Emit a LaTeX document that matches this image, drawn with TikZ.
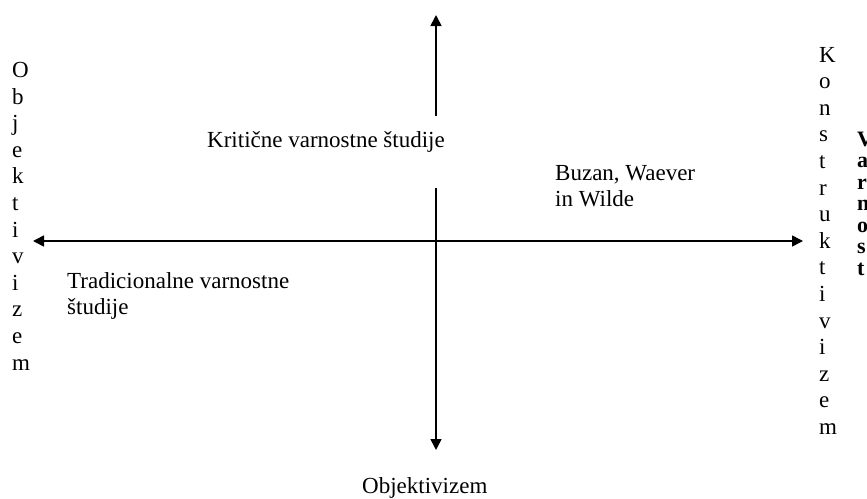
\documentclass[tikz,border=0pt]{standalone}
\usepackage{fontspec}
\setmainfont{Liberation Serif}
\usetikzlibrary{arrows.meta}
\begin{document}
\begin{tikzpicture}[x=1pt,y=-1pt,
  lbl/.style={font=\fontsize{23}{26.6}\selectfont, inner sep=0pt, anchor=base west},
  vlbl/.style={font=\fontsize{22}{21.5}\selectfont\bfseries, inner sep=0pt, anchor=base west},
  ax/.style={line width=1.6pt, {Triangle[length=11pt,width=11pt]}-{Triangle[length=11pt,width=11pt]}},
  mask/.style={fill=white, draw=none, inner sep=0pt, anchor=north west},
]
\useasboundingbox (0,0) rectangle (867,498);
% axes
\coordinate (top) at (436,15);
\coordinate (bot) at (436,450);
\coordinate (lft) at (33,241);
\coordinate (rgt) at (803,241);
\draw[ax] (lft) -- (rgt);
\draw[ax] (top) -- (bot);
% white text box hiding part of vertical axis
\node[mask, minimum width=250pt, minimum height=72pt] (krbox) at (200,116) {};
\node[lbl] (kr) at (207,147) {Kritične varnostne študije};
% quadrant labels
\node[lbl] (bz1) at (555,180) {Buzan, Waever};
\node[lbl] (bz2) at (555,206.6) {in Wilde};
\node[lbl] (tr1) at (67,288) {Tradicionalne varnostne};
\node[lbl] (tr2) at (67,314.6) {študije};
\node[lbl] (obj) at (362,493) {Objektivizem};
% vertical words
\foreach \c [count=\i from 0] in {O,b,j,e,k,t,i,v,i,z,e,m}
  \node[lbl] (ol\i) at (12,{77.4+\i*26.6}) {\c};
\foreach \c [count=\i from 0] in {K,o,n,s,t,r,u,k,t,i,v,i,z,e,m}
  \node[lbl] (kr\i) at (819,{62+\i*26.6}) {\c};
\begin{scope}
\clip (0,0) rectangle (867,498);
\foreach \c [count=\i from 0] in {V,a,r,n,o,s,t}
  \node[vlbl] (va\i) at (857,{146+\i*21.5}) {\c};
\end{scope}
\end{tikzpicture}
\end{document}
